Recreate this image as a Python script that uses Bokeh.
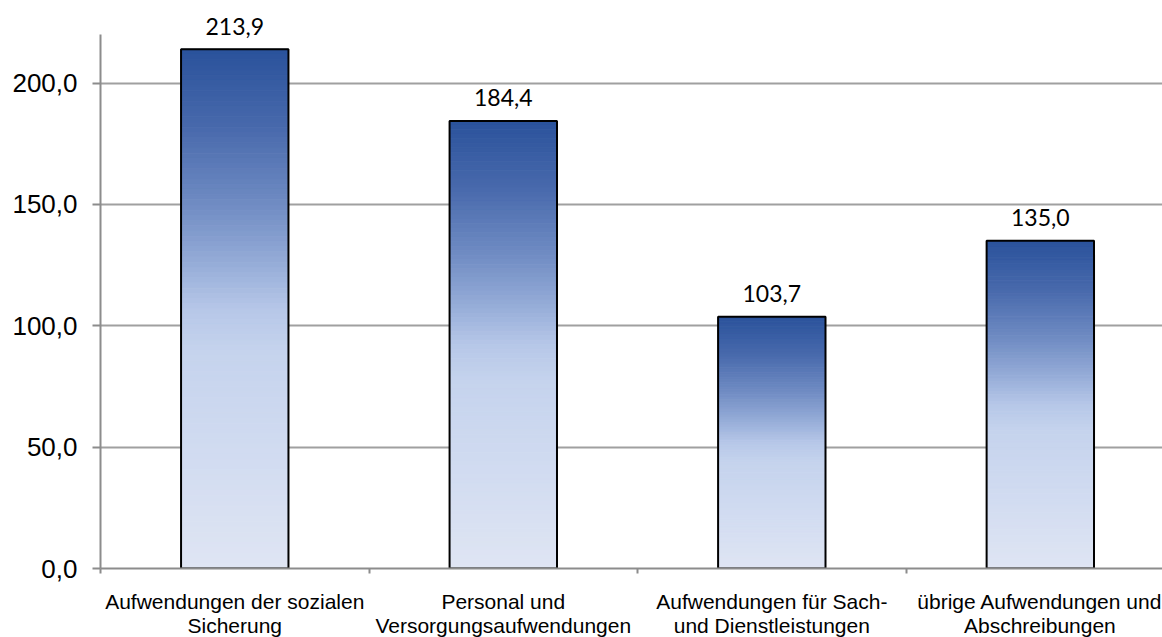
from bokeh.plotting import figure
from bokeh.models import Range1d, FixedTicker, ColumnDataSource
from bokeh.core.properties import value
from bokeh.embed import file_html
from bokeh.resources import INLINE

# Expense categories and amounts (Mio. €)
categories = [
    "Aufwendungen der sozialen\nSicherung",
    "Personal und\nVersorgungsaufwendungen",
    "Aufwendungen für Sach-\nund Dienstleistungen",
    "übrige Aufwendungen und\nAbschreibungen",
]
amounts = [213.9, 184.4, 103.7, 135.0]
value_labels = ["213,9", "184,4", "103,7", "135,0"]
y_ticks = [0, 50, 100, 150, 200]
y_tick_labels = ["0,0", "50,0", "100,0", "150,0", "200,0"]

BAR_WIDTH = 0.4
centers = [i + 0.5 for i in range(len(categories))]

# vertical gradient for the bars: (position from top, rgb)
stops = [
    (0.00, (42, 82, 155)),
    (0.15, (72, 105, 172)),
    (0.30, (112, 140, 195)),
    (0.42, (152, 174, 217)),
    (0.50, (182, 199, 232)),
    (0.58, (197, 211, 237)),
    (0.80, (210, 220, 241)),
    (1.00, (223, 229, 243)),
]


def grad_color(t):
    for (t0, c0), (t1, c1) in zip(stops[:-1], stops[1:]):
        if t <= t1:
            f = (t - t0) / (t1 - t0)
            r, g, b = (round(a + (b_ - a) * f) for a, b_ in zip(c0, c1))
            return "#%02x%02x%02x" % (r, g, b)
    return "#%02x%02x%02x" % stops[-1][1]


N = 100
left, right, top, bottom, colors = [], [], [], [], []
for cx, v in zip(centers, amounts):
    for k in range(N):
        left.append(cx - BAR_WIDTH / 2)
        right.append(cx + BAR_WIDTH / 2)
        top.append(v * (1 - k / N))
        bottom.append(v * (1 - (k + 1) / N))
        colors.append(grad_color((k + 0.5) / N))
slices = ColumnDataSource(dict(left=left, right=right, top=top, bottom=bottom, color=colors))

p = figure(
    frame_width=1062,
    frame_height=534,
    x_range=Range1d(0, 3.955),
    y_range=Range1d(0, 220),
    output_backend="svg",
    toolbar_location=None,
    min_border_left=100,
    min_border_top=34,
    min_border_right=0,
    min_border_bottom=0,
    background_fill_color="white",
    border_fill_color="white",
)
p.outline_line_color = None

AXIS_GREY = "#8c8c8c"
GRID_GREY = "#a0a0a0"

p.xgrid.visible = False
p.ygrid.ticker = FixedTicker(ticks=y_ticks)
p.ygrid.grid_line_color = GRID_GREY
p.ygrid.grid_line_width = 2

# y axis
p.yaxis.ticker = FixedTicker(ticks=y_ticks, minor_ticks=[])
p.yaxis.major_label_overrides = dict(zip(y_ticks, y_tick_labels))
p.yaxis.major_tick_out = 8
p.yaxis.major_tick_in = 0
p.yaxis.minor_tick_out = 0
p.yaxis.axis_line_color = AXIS_GREY
p.yaxis.axis_line_width = 2
p.yaxis.major_tick_line_color = AXIS_GREY
p.yaxis.major_tick_line_width = 2
p.yaxis.major_label_text_font = "Liberation Sans"
p.yaxis.major_label_text_font_size = "26px"
p.yaxis.major_label_text_color = "black"
p.yaxis.major_label_standoff = 15

# x axis: labels at category centres, tick marks at category boundaries
p.xaxis.ticker = FixedTicker(ticks=centers, minor_ticks=[0, 1, 2, 3, 4])
p.xaxis.major_label_overrides = dict(zip(centers, categories))
p.xaxis.major_tick_out = 0
p.xaxis.major_tick_in = 0
p.xaxis.minor_tick_out = 5
p.xaxis.minor_tick_in = 0
p.xaxis.minor_tick_line_color = AXIS_GREY
p.xaxis.minor_tick_line_width = 2
p.xaxis.axis_line_color = AXIS_GREY
p.xaxis.axis_line_width = 2
p.xaxis.major_label_text_font = "Liberation Sans"
p.xaxis.major_label_text_font_size = "21px"
p.xaxis.major_label_text_color = "black"
p.xaxis.major_label_text_line_height = 1.05
p.xaxis.major_label_standoff = 16

# gradient-filled bars
p.quad(left="left", right="right", top="top", bottom="bottom", source=slices,
       fill_color="color", line_color="color", line_width=1)
# bar outlines
p.vbar(x=centers, top=amounts, width=BAR_WIDTH, fill_color=None,
       line_color="black", line_width=2)

# value labels
p.text(x=centers, y=amounts, text=value_labels, text_font=value("Lato"),
       text_font_size="23px", text_align="center", text_baseline="alphabetic",
       text_color="black", y_offset=-23, level="overlay")

open("out.html", "w").write(file_html(p, INLINE))
